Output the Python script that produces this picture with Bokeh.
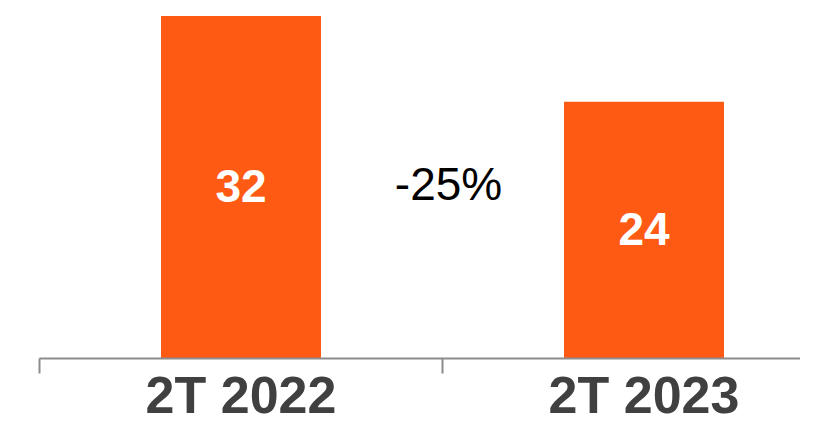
from bokeh.plotting import figure
from bokeh.models import Range1d, LinearAxis, FixedTicker, ColumnDataSource
from bokeh.core.properties import value
from bokeh.embed import file_html
from bokeh.resources import INLINE

categories = ["2T 2022", "2T 2023"]
values = [32, 24]
change_text = "{:.0f}%".format((values[1] - values[0]) / values[0] * 100)

BAR_COLOR = "#FF5A14"
AXIS_COLOR = "#8C8C8C"
FONT = "Liberation Sans"

xs = [i + 0.5 for i in range(len(categories))]

p = figure(width=800, height=428, output_backend="svg", toolbar_location=None,
           x_range=Range1d(0, 761 / 403), y_range=Range1d(0, 358 / 10.7),
           x_axis_type=None, y_axis_type=None,
           min_border_left=39, min_border_right=0, min_border_top=0, min_border_bottom=70)
p.outline_line_color = None
p.background_fill_color = "white"
p.border_fill_color = "white"

src = ColumnDataSource(dict(x=xs, top=values, mid=[v / 2 for v in values],
                            lab=[str(v) for v in values]))
p.vbar(x="x", top="top", bottom=0, width=0.397, source=src,
       fill_color=BAR_COLOR, line_color=None)

p.text(x="x", y="mid", text="lab", source=src, text_align="center",
       text_baseline="middle", text_color="white", text_font=value(FONT),
       text_font_style="bold", text_font_size="46px", y_offset=-1)

p.text(x=[1.0], y=[values[0] / 2], text=[change_text], x_offset=6, y_offset=-3,
       text_align="center", text_baseline="middle", text_color="black",
       text_font=value(FONT), text_font_size="46px")

ax = LinearAxis(ticker=FixedTicker(ticks=xs, minor_ticks=list(range(len(categories) + 1))),
                major_label_overrides={x: c for x, c in zip(xs, categories)})
ax.axis_line_color = AXIS_COLOR
ax.axis_line_width = 2
ax.major_tick_line_color = None
ax.major_tick_out = 0
ax.major_tick_in = 0
ax.minor_tick_out = 15
ax.minor_tick_in = 0
ax.minor_tick_line_color = AXIS_COLOR
ax.minor_tick_line_width = 2
ax.major_label_text_font = FONT
ax.major_label_text_font_style = "bold"
ax.major_label_text_font_size = "52px"
ax.major_label_text_color = "#404040"
ax.major_label_standoff = -8
p.add_layout(ax, "below")

open("out.html", "w").write(file_html(p, INLINE))
